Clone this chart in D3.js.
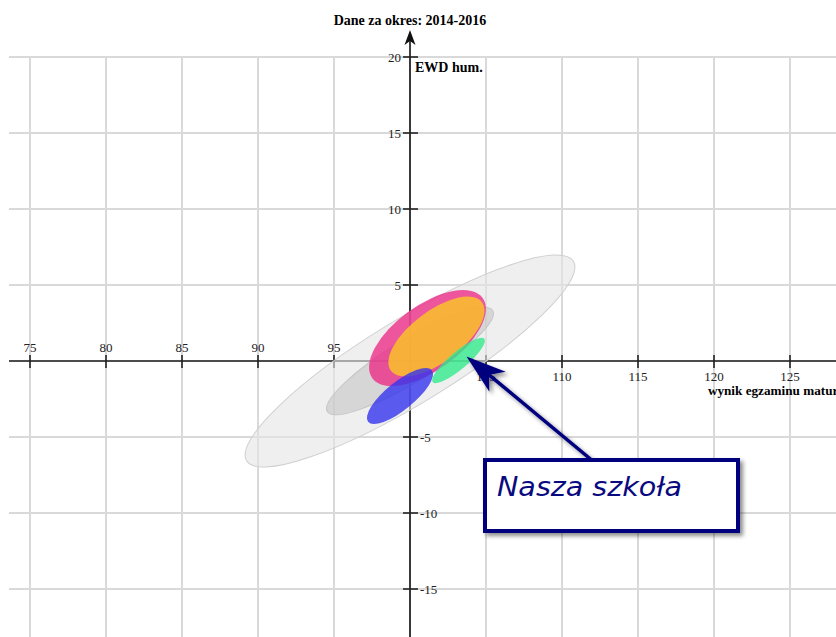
<!DOCTYPE html>
<html>
<head>
<meta charset="utf-8">
<script src="https://cdn.jsdelivr.net/npm/d3@7"></script>
<style>
  html, body { margin: 0; padding: 0; background: #fff; overflow: hidden; }
  svg { display: block; }
</style>
</head>
<body>
<div id="chart"></div>
<script>
"use strict";

// ticks
var xTicks = [75, 80, 85, 90, 95, 105, 110, 115, 120, 125];
var yTicks = [20, 15, 10, 5, -5, -10, -15];

// ellipses: centre (wynik, EWD), semi-axes in data units, tilt in degrees
var ellipseNames  = ["zakres szeroki", "zakres wąski", "grupa 1", "grupa 2", "grupa 3", "Nasza szkoła"];
var ellipseX      = [100, 100, 101.15, 101.74, 99.34, 103.19];
var ellipseY      = [0, 0, 1.51, 1.61, -2.30, 0.03];
var ellipseA      = [12.6, 6.37, 4.49, 3.75, 2.70, 2.22];
var ellipseB      = [2.78, 1.41, 2.14, 1.68, 0.92, 0.57];
var ellipseAngle  = [31.4, 31.4, 36, 37, 39, 40];

var ellipseFill   = ["#e4e4e4", "#bdbdbd", "#ec2a85", "#f9c22a", "#3434ee", "#2eeb8a"];
var ellipseAlpha  = [0.6, 0.5, 0.78, 0.85, 0.8, 0.78];
var ellipseStroke = ["#cfcfcf", "#c4c4c4", "none", "none", "none", "none"];

var title      = "Dane za okres: 2014-2016";
var yTitle     = "EWD hum.";
var xTitle     = "wynik egzaminu maturalnego";
var noteText   = "Nasza szkoła";

var Chart = function(el) {

  var width     = 836;
  var height    = 637;
  var x         = d3.scaleLinear().domain([75, 125]).range([30, 790]);
  var y         = d3.scaleLinear().domain([-15, 20]).range([589, 57]);
  var plotLeft  = 9;
  var plotTop   = y(20);
  var ax        = x(100);
  var svg;

  var makeSvgArea = function() {
    svg = d3.select(el).append("svg")
      .attr("width", width)
      .attr("height", height)
      .style("font-family", "'Liberation Serif', 'Times New Roman', serif");

    svg.append("defs").append("filter")
      .attr("id", "shadow")
      .attr("x", "-20%").attr("y", "-20%")
      .attr("width", "140%").attr("height", "160%")
      .append("feDropShadow")
      .attr("dx", 3).attr("dy", 3)
      .attr("stdDeviation", 2)
      .attr("flood-color", "#000")
      .attr("flood-opacity", 0.45);
  };

  var drawGrid = function() {
    var gridX = d3.range(75, 130, 5);
    var gridY = d3.range(-15, 25, 5).filter(function(d) { return d !== 0; });

    svg.append("g").selectAll("line")
      .data(gridX)
      .enter().append("line")
      .attr("x1", function(d) { return x(d); })
      .attr("x2", function(d) { return x(d); })
      .attr("y1", plotTop)
      .attr("y2", height)
      .attr("stroke", "#d9d9d9")
      .attr("stroke-width", 2);

    svg.append("g").selectAll("line")
      .data(gridY)
      .enter().append("line")
      .attr("x1", plotLeft)
      .attr("x2", width)
      .attr("y1", function(d) { return y(d); })
      .attr("y2", function(d) { return y(d); })
      .attr("stroke", "#d9d9d9")
      .attr("stroke-width", 2);
  };

  var drawAxes = function() {
    svg.append("line")
      .attr("x1", plotLeft).attr("x2", width)
      .attr("y1", y(0)).attr("y2", y(0))
      .attr("stroke", "#111").attr("stroke-width", 1.6);

    svg.append("line")
      .attr("x1", ax).attr("x2", ax)
      .attr("y1", height).attr("y2", plotTop - 20)
      .attr("stroke", "#111").attr("stroke-width", 1.6);

    svg.append("path")
      .attr("d", "M" + (ax - 5.5) + "," + (plotTop - 12) +
                 " L" + ax + "," + (plotTop - 27) +
                 " L" + (ax + 5.5) + "," + (plotTop - 12) +
                 " L" + ax + "," + (plotTop - 16) + " Z")
      .attr("fill", "#111");

    svg.append("g").selectAll("line")
      .data(xTicks)
      .enter().append("line")
      .attr("x1", function(d) { return x(d); })
      .attr("x2", function(d) { return x(d); })
      .attr("y1", y(0) - 6)
      .attr("y2", y(0) + 7)
      .attr("stroke", "#222")
      .attr("stroke-width", 1.6);

    svg.append("g").selectAll("line")
      .data(yTicks)
      .enter().append("line")
      .attr("x1", ax - 7)
      .attr("x2", ax + 8)
      .attr("y1", function(d) { return y(d); })
      .attr("y2", function(d) { return y(d); })
      .attr("stroke", "#222")
      .attr("stroke-width", 1.6);
  };

  var ellipses = ellipseNames.map(function(name, i) {
    return {
      name: name,
      cx: ellipseX[i], cy: ellipseY[i],
      a: ellipseA[i], b: ellipseB[i],
      angle: ellipseAngle[i],
      fill: ellipseFill[i], alpha: ellipseAlpha[i], stroke: ellipseStroke[i]
    };
  });

  var drawEllipses = function() {
    svg.append("g").selectAll("ellipse")
      .data(ellipses)
      .enter().append("ellipse")
      .attr("class", "ellipse")
      .attr("rx", function(d) { return x(d.cx + d.a) - x(d.cx); })
      .attr("ry", function(d) { return y(d.cy) - y(d.cy + d.b); })
      .attr("transform", function(d) {
        return "translate(" + x(d.cx) + "," + y(d.cy) + ") rotate(" + (-d.angle) + ")";
      })
      .attr("fill", function(d) { return d.fill; })
      .attr("fill-opacity", function(d) { return d.alpha; })
      .attr("stroke", function(d) { return d.stroke; })
      .attr("stroke-width", 1);
  };

  var drawLabels = function() {
    svg.append("g").selectAll("text")
      .data(xTicks)
      .enter().append("text")
      .attr("x", function(d) { return x(d); })
      .attr("y", function(d) { return d < 100 ? y(0) - 9 : y(0) + 20; })
      .attr("text-anchor", "middle")
      .attr("font-size", 13)
      .attr("fill", "#222")
      .text(function(d) { return d; });

    svg.append("g").selectAll("text")
      .data(yTicks)
      .enter().append("text")
      .attr("x", function(d) { return d > 0 ? ax - 9 : ax + 10; })
      .attr("y", function(d) { return y(d) + 4.5; })
      .attr("text-anchor", function(d) { return d > 0 ? "end" : "start"; })
      .attr("font-size", 13)
      .attr("fill", "#222")
      .text(function(d) { return d; });

    svg.append("text")
      .attr("x", ax)
      .attr("y", 25)
      .attr("text-anchor", "middle")
      .attr("font-size", 14)
      .attr("font-weight", "bold")
      .text(title);

    svg.append("text")
      .attr("x", ax + 5)
      .attr("y", plotTop + 15)
      .attr("font-size", 14)
      .attr("font-weight", "bold")
      .text(yTitle);

    // runs past the right edge, as in the original
    svg.append("text")
      .attr("x", x(119.6))
      .attr("y", y(0) + 34)
      .attr("font-size", 13.2)
      .attr("font-weight", "bold")
      .text(xTitle);
  };

  // arrow + box pointing at our school
  var drawNote = function() {
    var school = ellipses[ellipses.length - 1];
    var tipX = x(school.cx) + 8;
    var tipY = y(school.cy) - 4;
    var boxX = 485, boxY = 460, boxW = 253, boxH = 71;
    var tailX = 594, tailY = boxY;

    var note = svg.append("g").attr("filter", "url(#shadow)");

    var ang = Math.atan2(tailY - tipY, tailX - tipX);
    var headLen = 40, headW = 13, notch = 29;
    var p = function(along, side) {
      return [tipX + Math.cos(ang) * along - Math.sin(ang) * side,
              tipY + Math.sin(ang) * along + Math.cos(ang) * side];
    };
    var baseMid = p(notch, 0);

    note.append("line")
      .attr("x1", baseMid[0]).attr("y1", baseMid[1])
      .attr("x2", tailX).attr("y2", tailY + 2)
      .attr("stroke", "#00007e")
      .attr("stroke-width", 3.5);

    note.append("path")
      .attr("d", "M" + [tipX, tipY] + " L" + p(headLen, headW) + " L" + baseMid +
                 " L" + p(headLen, -headW) + " Z")
      .attr("fill", "#00007e");

    note.append("rect")
      .attr("x", boxX).attr("y", boxY)
      .attr("width", boxW).attr("height", boxH)
      .attr("fill", "#fff")
      .attr("stroke", "#00007e")
      .attr("stroke-width", 4);

    svg.append("text")
      .attr("x", boxX + 12)
      .attr("y", boxY + 36)
      .attr("font-family", "'DejaVu Sans', sans-serif")
      .attr("font-style", "italic")
      .attr("font-size", 27)
      .attr("fill", "#0a0a80")
      .attr("textLength", 185)
      .attr("lengthAdjust", "spacingAndGlyphs")
      .text(noteText);
  };

  var init = function() {
    makeSvgArea();
    drawGrid();
    drawAxes();
    drawEllipses();
    drawLabels();
    drawNote();
  };

  return init();
};

Chart("#chart");
</script>
</body>
</html>
